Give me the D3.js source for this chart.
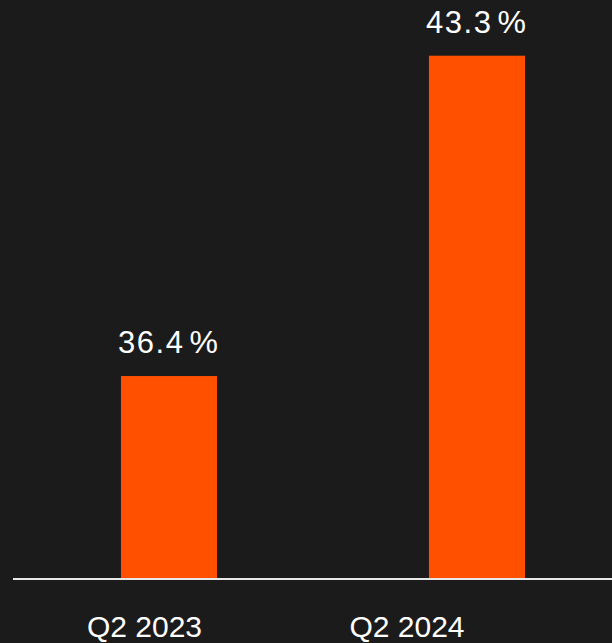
<!DOCTYPE html>
<html>
<head>
<meta charset="utf-8">
<script src="https://cdn.jsdelivr.net/npm/d3@7"></script>
<style>
  html, body { margin: 0; padding: 0; background: #1b1b1b; }
  svg { display: block; }
</style>
</head>
<body>
<div id="chart"></div>
<script>
// data
const categories = ["Q2 2023", "Q2 2024"];
const values = [36.4, 43.3];

const width = 612, height = 643;
const baseY = 578;

const svg = d3.select("#chart").append("svg")
  .attr("width", width)
  .attr("height", height)
  .attr("viewBox", [0, 0, width, height]);

svg.append("rect").attr("width", width).attr("height", height).attr("fill", "#1b1b1b");

const x = d3.scaleBand()
  .domain(categories)
  .range([13, 633])
  .paddingInner(0.688)
  .paddingOuter(0.3506);

// category labels sit left of the bar centres in the original
const xLabel = d3.scalePoint()
  .domain(categories)
  .range([144.5, 407]);

const y = d3.scaleLinear()
  .domain([32.05, 44.5])
  .range([baseY, 0]);

const data = categories.map((c, i) => ({ cat: c, value: values[i] }));

// bars
svg.append("g")
  .selectAll("rect")
  .data(data)
  .enter().append("rect")
  .attr("x", d => x(d.cat))
  .attr("y", d => y(d.value))
  .attr("width", x.bandwidth())
  .attr("height", d => baseY - y(d.value))
  .attr("fill", "#ff5000");

// value labels
const vl = svg.append("g")
  .selectAll("text")
  .data(data)
  .enter().append("text")
  .attr("x", d => x(d.cat) + x.bandwidth() / 2 - 1)
  .attr("y", d => y(d.value) - 23)
  .attr("text-anchor", "middle")
  .attr("fill", "#ffffff")
  .style("font-family", "'Liberation Sans', Arial, sans-serif")
  .style("font-size", "31px");

vl.append("tspan")
  .style("letter-spacing", "1.5px")
  .text(d => d.value.toFixed(1));
vl.append("tspan")
  .attr("dx", 5)
  .style("font-size", "32px")
  .text("%");

// baseline
svg.append("line")
  .attr("x1", 13).attr("x2", width)
  .attr("y1", baseY + 1).attr("y2", baseY + 1)
  .attr("stroke", "#e8e8e8")
  .attr("stroke-width", 2);

// category labels
svg.append("g")
  .selectAll("text")
  .data(categories)
  .enter().append("text")
  .attr("x", d => xLabel(d))
  .attr("y", 637)
  .attr("text-anchor", "middle")
  .attr("fill", "#ffffff")
  .style("font-family", "'Liberation Sans', Arial, sans-serif")
  .style("font-size", "30px")
  .text(d => d);
</script>
</body>
</html>
